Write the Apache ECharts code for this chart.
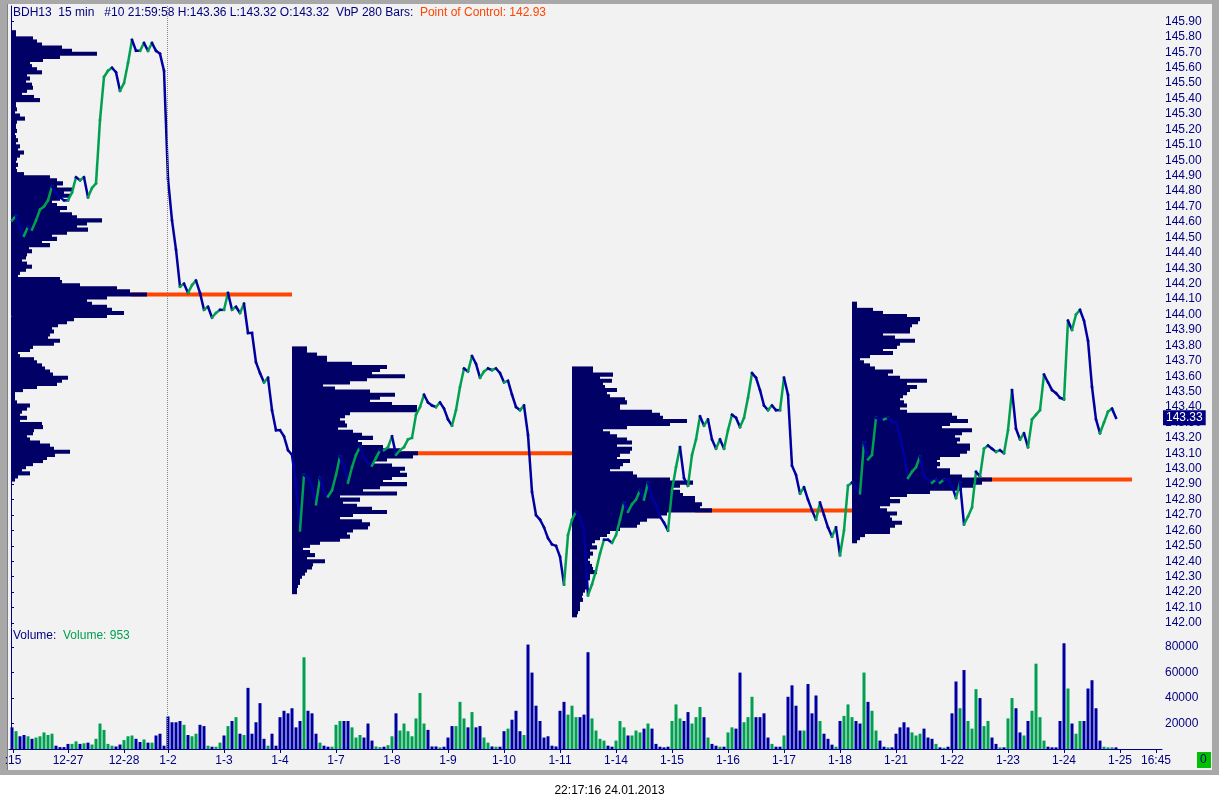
<!DOCTYPE html>
<html><head><meta charset="utf-8">
<script src="https://cdn.jsdelivr.net/npm/echarts@6/dist/echarts.min.js"></script>
<style>html,body{margin:0;padding:0;background:#fff}#c{width:1219px;height:808px}</style>
</head><body><div id="c"></div>
<script>
// ---------- data ----------
const firstBar = 1;        // bar index of first sample
const sampleStep = 4;      // bars between samples (15-min bars)

// closing prices, one per sampleStep bars
const prices = [
144.61,144.64,144.56,144.51,144.57,144.55,144.61,144.68,144.70,144.74,
144.83,144.79,144.76,144.74,144.74,144.79,144.89,144.87,144.89,144.76,
144.82,144.85,145.26,145.54,145.58,145.60,145.57,145.45,145.50,145.63,
145.78,145.71,145.71,145.76,145.71,145.76,145.71,145.69,145.58,144.88,
144.61,144.42,144.18,144.20,144.14,144.19,144.22,144.14,144.03,144.05,
143.98,144.01,144.03,144.03,144.14,144.03,144.05,144.01,144.07,143.88,
143.88,143.69,143.62,143.56,143.59,143.38,143.25,143.25,143.21,143.12,
143.09,142.89,142.60,142.96,142.94,142.89,142.77,142.94,142.85,142.82,
142.86,142.96,143.08,143.01,142.91,143.01,143.09,143.14,143.07,143.04,
143.02,143.07,143.12,143.12,143.14,143.21,143.09,143.12,143.14,143.19,
143.20,143.35,143.40,143.48,143.43,143.41,143.40,143.43,143.39,143.32,
143.28,143.38,143.53,143.65,143.63,143.73,143.68,143.59,143.63,143.65,
143.64,143.65,143.62,143.56,143.57,143.48,143.40,143.38,143.41,143.22,
142.85,142.70,142.67,142.62,142.55,142.51,142.50,142.43,142.25,142.57,
142.67,142.72,142.69,142.60,142.18,142.25,142.34,142.45,142.54,142.54,
142.52,142.57,142.67,142.78,142.72,142.77,142.80,142.86,142.80,142.91,
142.81,142.77,142.69,142.65,142.60,142.86,143.01,143.14,142.94,142.89,
143.09,143.19,143.34,143.28,143.32,143.19,143.13,143.19,143.13,143.25,
143.35,143.33,143.27,143.33,143.46,143.62,143.59,143.51,143.41,143.38,
143.41,143.38,143.38,143.59,143.48,143.02,142.96,142.84,142.88,142.80,
142.73,142.67,142.78,142.70,142.62,142.56,142.62,142.44,142.60,142.89,
142.91,142.88,142.84,143.17,143.06,143.09,143.33,143.32,143.32,143.33,
143.30,143.30,143.21,143.09,142.94,142.98,143.01,143.08,142.95,142.93,
142.91,142.93,142.91,142.93,142.93,142.89,142.81,142.91,142.64,142.69,
142.75,142.98,142.95,143.13,143.15,143.13,143.11,143.12,143.10,143.25,
143.51,143.26,143.19,143.23,143.14,143.32,143.35,143.38,143.61,143.56,
143.51,143.49,143.46,143.45,143.96,143.90,144.00,144.03,143.96,143.83,
143.53,143.32,143.23,143.30,143.37,143.39,143.33
];

// volume in thousands, one per sampleStep bars
const volumes = [
17,14,10,11,10,8,9,10,13,11,
12,2.6,1.5,1.5,4,4,6,4,4.5,5,
3.5,8,20,15,4,2.6,2,3.5,7,10,
10.6,8,5.5,7.5,5,5,10.6,12,2.6,25.6,
21,21,22,19,11,10,12,19,18,2.6,
1.8,1.8,5,10.6,18,22,25,12,11,48,
12,21,36,8,2.6,12,2.6,25,30,28,
32,17,22,72,30,28,12,5,2.6,1.8,
1.8,19,22,22,22,17,9,11,9,20,
6.6,2,1.5,1.8,3,10,28,14.5,20,14,
10,24,44,20,15,2,2,1.3,1.8,9,
18,18,37,24,17,29,17,18,9,5,
2,1.8,1.8,14,16,23,30,14,11,82,
60,34,22,9,10,2.6,2,30,37,27,
34,25,25,27,76,24,14.5,8,6.6,2.6,
1.8,6.6,22,17,10.6,10.6,14.5,13,16,20,
16,4,1.8,1.3,1.8,22,35,24,22,29,
20,25,33,25,9,4,2.6,1.8,1.8,13,
17,16,60,21,25,41,25,25,28,9,
4,1.8,1.8,10.6,41,50,34,14.5,14.5,51,
28,42,22,12,8,3.4,1.8,22,26,35,
25,22,20,60,37,30,14.5,6.6,1.8,1.3,
1.3,12,17,21,17,13,10.6,12,16,9,
8,4,1.3,1,1.8,28,53,32,62,22,
16,47,40,18,22,9,4,1.3,1.3,24,
40,32,13,10.6,22,30,67,25,6.6,1.8,
1.3,1.3,22,83,47.5,20,12,22,22,47.5,
54,32,6.6,1.8,1.3,1.3,1.3
];

// x-axis day labels and their bar positions
const dayLabels = [':15','12-27','12-28','1-2','1-3','1-4','1-7','1-8','1-9','1-10','1-11','1-14','1-15','1-16','1-17','1-18','1-21','1-22','1-23','1-24','1-25','16:45'];
const dayBars   = [2,57,113,157,213,269,325,381,437,493,549,605,661,717,773,829,885,941,997,1053,1109,1145];

// price axis tick labels
const priceTicks = [142.0,142.1,142.2,142.3,142.4,142.5,142.6,142.7,142.8,142.9,143.0,143.1,143.2,143.3,143.4,143.5,143.6,143.7,143.8,143.9,144.0,144.1,144.2,144.3,144.4,144.5,144.6,144.7,144.8,144.9,145.0,145.1,145.2,145.3,145.4,145.5,145.6,145.7,145.8,145.9];
// volume axis tick labels (thousands)
const volumeTicks = [20,40,60,80];

// volume-by-price profiles (280-bar periods), rows of 0.02 from the top price down
const profileStarts = [1,281,561,841];
const periodBars = 280;
const profileRow = 0.02;
const profileTops = [145.83,143.78,143.65,144.07];
const profileA = [
4,4,21,25,30,50,60,85,48,31,
18,20,25,30,15,18,14,20,21,15,
10,22,28,4,4,5,3,8,13,5,
4,4,5,3,4,6,4,8,6,12,
8,5,4,6,4,5,12,38,45,51,
45,60,52,58,48,40,45,55,48,60,
65,90,75,65,76,55,40,45,30,38,
17,20,15,14,10,15,20,14,8,6,
48,50,68,105,118,135,95,75,80,95,
100,112,95,62,55,46,40,42,38,36,
48,42,21,18,6,8,22,25,30,33,
38,41,56,50,45,25,11,3,3,3,
5,18,15,10,8,15,8,30,31,22,
21,15,18,28,38,42,58,43,35,31,
21,14,10,18,6,3];
const profileB = [
15,15,25,35,35,60,95,88,80,113,
75,58,31,43,78,103,88,78,100,125,
125,58,53,48,53,55,46,61,70,81,
66,70,91,108,126,121,95,81,100,113,
108,115,100,91,115,88,71,105,48,68,
51,65,80,95,61,48,70,78,76,61,
55,58,48,28,18,11,18,23,15,33,
21,20,15,13,10,8,8,6,5,5];
const profileC = [
21,21,41,28,40,31,33,45,35,38,
53,55,48,48,80,88,91,115,98,55,
31,38,45,55,60,45,60,58,48,45,
58,51,48,38,61,65,98,121,108,101,
108,111,123,123,130,128,140,95,88,75,
68,65,48,38,35,28,23,20,25,18,
21,18,16,18,20,21,25,18,18,16,
15,15,13,11,10,11,8,8,8,6,
5];
const profileD = [
5,5,21,31,55,68,66,60,58,58,
31,43,63,48,45,31,41,18,8,12,
18,23,41,36,48,75,55,65,58,55,
51,48,52,55,48,55,100,105,116,98,
90,120,110,103,108,105,118,118,115,108,
88,85,88,85,98,98,110,140,130,121,
110,78,55,38,48,38,28,35,45,38,
40,50,43,38,38,13,8,5];
const profiles = [profileA, profileB, profileC, profileD];
const pocPrices = [144.13,143.10,142.73,142.93];

const sessionBreakBar = 156;
const lastPrice = 143.33;
const headerText = 'BDH13  15 min   #10 21:59:58 H:143.36 L:143.32 O:143.32  VbP 280 Bars:';
const pocText = 'Point of Control: 142.93';
const volumeText = 'Volume: 953';
const stampText = '22:17:16 24.01.2013';

// ---------- styling ----------
const NAVY = '#000080', LNAVY = '#0000a0', GREEN = '#00a050', PROF = '#000066', POCC = '#ff4500';
const FONT = 'Liberation Sans, Arial, sans-serif';
const txt = (color) => ({color: color, fontSize: 12, fontFamily: FONT, fontWeight: 'normal'});

// ---------- derived series data ----------
const priceData = prices.map((p, i) => [firstBar + i * sampleStep, p, i > 0 ? prices[i - 1] : p]);
const volumeData = volumes.map((v, i) => [firstBar + i * sampleStep, v]);
const profileData = [];
profiles.forEach((rows, j) => {
  rows.forEach((w, k) => profileData.push([profileStarts[j], +(profileTops[j] - k * profileRow).toFixed(2), w]));
});
const pocData = pocPrices.map((p, j) => {
  const k = Math.round((profileTops[j] - p) / profileRow);
  const w = profiles[j][k];
  return [profileStarts[j] + w * 0.88, profileStarts[j] + periodBars, p];
});

const priceMin = 141.974, priceMax = 146.0;

const chart = echarts.init(document.getElementById('c'), null, {renderer: 'canvas'});
const option = {
  animation: false,
  backgroundColor: '#ffffff',
  graphic: [
    {type: 'rect', z: -10, shape: {x: 0, y: 0, width: 1219, height: 775}, style: {fill: '#f2f2f2'}},
    {type: 'rect', z: -9, shape: {x: 0, y: 0, width: 7, height: 775}, style: {fill: '#a8a8a8'}},
    {type: 'rect', z: -9, shape: {x: 7, y: 4, width: 1, height: 766}, style: {fill: '#808080'}},
    {type: 'rect', z: -9, shape: {x: 0, y: 0, width: 1219, height: 4}, style: {fill: '#a8a8a8'}},
    {type: 'rect', z: -9, shape: {x: 1212, y: 0, width: 7, height: 775}, style: {fill: '#a8a8a8'}},
    {type: 'rect', z: -9, shape: {x: 0, y: 770, width: 1219, height: 5}, style: {fill: '#a8a8a8'}},
    {type: 'rect', z: 5, shape: {x: 1197, y: 752, width: 14, height: 16}, style: {fill: '#00c000'}},
    {type: 'text', z: 6, x: 1200, y: 754, style: {text: '0', fill: NAVY, font: '12px ' + FONT}}
  ],
  title: [
    {left: 13, top: 7, padding: 0, text: '{a|' + headerText + '}  {b|' + pocText + '}',
     textStyle: Object.assign(txt(NAVY), {rich: {a: txt(NAVY), b: txt(POCC)}})},
    {left: 13, top: 630, padding: 0, text: '{a|Volume:}  {b|' + volumeText + '}',
     textStyle: Object.assign(txt(NAVY), {rich: {a: txt(NAVY), b: txt(GREEN)}})},
    {left: 'center', top: 785, padding: 0, text: stampText, textStyle: txt('#000')}
  ],
  grid: [
    {left: 9, right: 57, top: 6, height: 621},
    {left: 9, right: 57, top: 628, height: 121}
  ],
  xAxis: [
    {gridIndex: 0, type: 'value', min: -2, max: 1151, show: false},
    {gridIndex: 1, type: 'value', min: -2, max: 1151,
     axisLine: {show: true, onZero: false, lineStyle: {color: NAVY, width: 1}},
     splitLine: {show: false},
     axisTick: {show: true, customValues: dayBars, length: 4, lineStyle: {color: NAVY}},
     axisLabel: Object.assign(txt(NAVY), {show: true, customValues: dayBars, margin: 6,
       formatter: v => { const k = dayBars.indexOf(v); return k >= 0 ? dayLabels[k] : ''; }})}
  ],
  yAxis: [
    {gridIndex: 0, type: 'value', position: 'right', min: priceMin, max: priceMax,
     splitLine: {show: false},
     axisLine: {show: true, lineStyle: {color: NAVY, width: 1}},
     axisTick: {show: true, customValues: priceTicks, length: 3, lineStyle: {color: NAVY}},
     axisLabel: Object.assign(txt(NAVY), {show: true, customValues: priceTicks, margin: 3,
       formatter: v => v.toFixed(2)})},
    {gridIndex: 1, type: 'value', position: 'right', min: 0, max: 95,
     splitLine: {show: false},
     axisLine: {show: true, lineStyle: {color: NAVY, width: 1}},
     axisTick: {show: true, customValues: volumeTicks, length: 3, lineStyle: {color: NAVY}},
     axisLabel: Object.assign(txt(NAVY), {show: true, customValues: volumeTicks, margin: 3,
       formatter: v => String(Math.round(v * 1000))})},
    // overlay axis carrying the last-price marker box
    {gridIndex: 0, type: 'value', position: 'right', min: priceMin, max: priceMax, z: 10,
     splitLine: {show: false}, axisLine: {show: false}, axisTick: {show: false},
     axisLabel: {show: true, customValues: [lastPrice], margin: 1, formatter: v => v.toFixed(2),
       color: '#ffffff', backgroundColor: NAVY, fontSize: 12, fontFamily: FONT, padding: [2, 3, 1, 3]}}
  ],
  series: [
    { // POC lines
      type: 'custom', xAxisIndex: 0, yAxisIndex: 0, z: 1, clip: true, silent: true,
      data: pocData,
      renderItem: (params, api) => {
        const a = api.coord([api.value(0), api.value(2)]);
        const b = api.coord([api.value(1), api.value(2)]);
        return {type: 'line', shape: {x1: a[0], y1: a[1], x2: b[0], y2: b[1]}, style: {stroke: POCC, lineWidth: 4}};
      }
    },
    { // volume profiles
      type: 'custom', xAxisIndex: 0, yAxisIndex: 0, z: 2, clip: true, silent: true,
      data: profileData,
      renderItem: (params, api) => {
        const x0 = api.value(0), p = api.value(1), w = api.value(2);
        const tl = api.coord([x0, p + profileRow / 2]);
        const br = api.coord([x0 + w, p - profileRow / 2]);
        return {type: 'rect', shape: {x: tl[0], y: tl[1] - 0.5, width: br[0] - tl[0], height: br[1] - tl[1] + 1},
                style: {fill: PROF}};
      }
    },
    { // price line
      type: 'custom', xAxisIndex: 0, yAxisIndex: 0, z: 3, clip: true, silent: true,
      data: priceData,
      renderItem: (params, api) => {
        if (params.dataIndex === 0) return {type: 'group', children: []};
        const a = api.coord([api.value(0) - sampleStep, api.value(2)]);
        const b = api.coord([api.value(0), api.value(1)]);
        const up = api.value(1) > api.value(2);
        return {type: 'line', shape: {x1: a[0], y1: a[1], x2: b[0], y2: b[1]},
                style: {stroke: up ? GREEN : LNAVY, lineWidth: 2.5, lineCap: 'square'}};
      }
    },
    { // session break marker (price panel)
      type: 'line', xAxisIndex: 0, yAxisIndex: 0, z: 4, symbol: 'none', silent: true,
      data: [[priceData[priceData.length - 1][0], lastPrice]],
      lineStyle: {opacity: 0},
      markLine: {
        silent: true, symbol: 'none', animation: false,
        data: [{xAxis: sessionBreakBar, lineStyle: {color: '#888', type: 'dotted', width: 1}, label: {show: false}}]
      }
    },
    { // volume bars
      type: 'bar', xAxisIndex: 1, yAxisIndex: 1, barWidth: 3, silent: true,
      data: volumeData,
      itemStyle: {color: p => (p.dataIndex > 0 && prices[p.dataIndex] > prices[p.dataIndex - 1]) ? GREEN : LNAVY},
      markLine: {
        silent: true, symbol: 'none', animation: false,
        data: [{xAxis: sessionBreakBar, lineStyle: {color: '#888', type: 'dotted', width: 1}, label: {show: false}}]
      }
    }
  ]
};
chart.setOption(option);
</script>
</body></html>
